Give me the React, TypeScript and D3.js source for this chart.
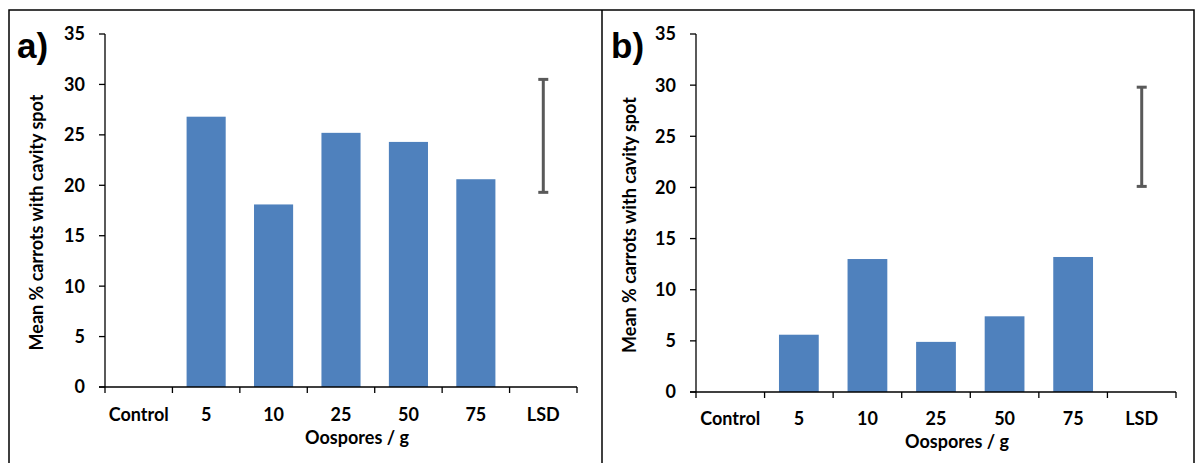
import React from "react";
import * as d3 from "d3";

const categories = ["Control", "5", "10", "25", "50", "75", "LSD"];
const valuesA: (number | null)[] = [null, 26.8, 18.1, 25.2, 24.3, 20.6, null];
const valuesB: (number | null)[] = [null, 5.6, 13.0, 4.9, 7.4, 13.2, null];
const lsdA = [19.3, 30.5];
const lsdB = [20.1, 29.8];
const yTicks = [0, 5, 10, 15, 20, 25, 30, 35];
const yTitle = "Mean % carrots with cavity spot";
const xTitle = "Oospores / g";

const FONT = "Lato, 'Open Sans', sans-serif";

type PanelProps = {
  label: string;
  values: (number | null)[];
  lsd: number[];
  x0: number; x1: number; yTop: number; yZero: number;
  labelX: number; yTitleX: number; xTitleX: number;
  tickBase: number; titleBase: number;
};

function Panel(p: PanelProps) {
  const x = d3.scaleBand<string>().domain(categories).range([p.x0, p.x1]).paddingInner(0.42).paddingOuter(0.21);
  const xb = d3.scaleBand<string>().domain(categories).range([p.x0, p.x1]);
  const y = d3.scaleLinear().domain([0, 35]).range([p.yZero, p.yTop]);
  const lsdX = (xb("LSD") as number) + xb.bandwidth() / 2;
  const bounds = [...categories.map((c) => xb(c) as number), p.x1];
  return (
    <g>
      {p.values.map((v, i) =>
        v == null ? null : (
          <rect key={i} x={x(categories[i])} y={y(v)} width={x.bandwidth()} height={y(0) - y(v)} fill="#4F81BD" />
        )
      )}
      <line x1={p.x0} x2={p.x0} y1={y(35)} y2={y(0)} stroke="#000" strokeWidth={1.3} />
      {yTicks.map((t) => (
        <g key={t}>
          <line x1={p.x0 - 6} x2={p.x0} y1={y(t)} y2={y(t)} stroke="#000" strokeWidth={1.3} />
          <text x={p.x0 - 20} y={y(t)} dy="0.36em" textAnchor="end" fontFamily={FONT} fontWeight="bold" fontSize={18}>{t}</text>
        </g>
      ))}
      <line x1={p.x0 - 6} x2={p.x1} y1={y(0)} y2={y(0)} stroke="#000" strokeWidth={1.3} />
      {bounds.map((b, i) => (
        <line key={i} x1={b} x2={b} y1={y(0)} y2={y(0) + 6} stroke="#000" strokeWidth={1.3} />
      ))}
      {categories.map((c) => (
        <text key={c} x={(xb(c) as number) + xb.bandwidth() / 2} y={p.tickBase} textAnchor="middle" fontFamily={FONT} fontWeight="bold" fontSize={18}>{c}</text>
      ))}
      <g stroke="#595959" strokeWidth={3}>
        <line x1={lsdX} x2={lsdX} y1={y(p.lsd[0])} y2={y(p.lsd[1])} />
        <line x1={lsdX - 5} x2={lsdX + 5} y1={y(p.lsd[0])} y2={y(p.lsd[0])} />
        <line x1={lsdX - 5} x2={lsdX + 5} y1={y(p.lsd[1])} y2={y(p.lsd[1])} />
      </g>
      <text x={p.xTitleX} y={p.titleBase} textAnchor="middle" fontFamily={FONT} fontWeight="bold" fontSize={18}>{xTitle}</text>
      <text transform={`translate(${p.yTitleX},${(y(0) + y(35)) / 2 + 12}) rotate(-90)`} textAnchor="middle" dy="0.35em" fontFamily={FONT} fontWeight="bold" fontSize={18}>{yTitle}</text>
      <text x={p.labelX} y={58} fontFamily="'Liberation Sans', Arial, sans-serif" fontWeight="bold" fontSize={35}>{p.label}</text>
    </g>
  );
}

export default function App() {
  return (
    <svg width={1196} height={463} style={{ position: "absolute", left: 0, top: 0, background: "#fff" }}>
      <rect x={0} y={0} width={1196} height={463} fill="#fff" />
      <rect x={9} y={10} width={1185} height={470} fill="none" stroke="#000" strokeWidth={1.5} />
      <line x1={602} x2={602} y1={10} y2={463} stroke="#000" strokeWidth={1.5} />
      <Panel label="a)" values={valuesA} lsd={lsdA} x0={105} x1={577} yTop={34} yZero={387}
        labelX={17} yTitleX={37} xTitleX={357} tickBase={421} titleBase={444} />
      <Panel label="b)" values={valuesB} lsd={lsdB} x0={696} x1={1176} yTop={34} yZero={392}
        labelX={611} yTitleX={630} xTitleX={957} tickBase={425} titleBase={448} />
    </svg>
  );
}
